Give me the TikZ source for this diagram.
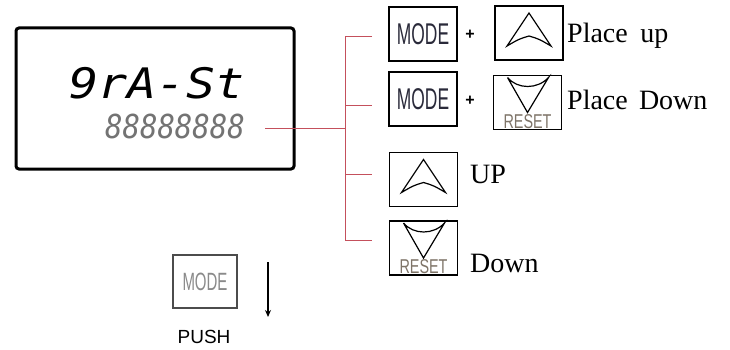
\documentclass[tikz,border=0pt]{standalone}
\usepackage{fontspec}
\usepackage{graphicx}
\usepackage{tikz}
\usetikzlibrary{arrows.meta}
\setmainfont{Liberation Serif}
\newfontfamily\keyfont{Liberation Sans}
\newfontfamily\segfont{DejaVu Sans Mono}
\definecolor{Wire}{HTML}{C4505C}
\definecolor{Ink}{HTML}{2A2A3A}
\definecolor{Faint}{HTML}{8A8A8A}
\definecolor{Rst}{HTML}{7E7468}

\tikzset{
  uparr/.pic={
    \draw[line width=1.2pt] (0,-20) -- (22,13) .. controls (10,6) .. (0,3)
      .. controls (-10,6) .. (-22,13) -- cycle;
  },
  dnarr/.pic={
    \draw[line width=1.2pt] (-20,-25) -- (0,10) -- (21,-25)
      .. controls (10,-13) and (-10,-13) .. (-20,-25);
    \node[font=\keyfont\fontsize{20}{20}\selectfont,text=Rst,inner sep=0pt]
      (-rst) at (0,19) {\scalebox{0.72}[1]{RESET}};
  }
}

\begin{document}
\begin{tikzpicture}[x=1pt,y=-1pt,
  lcd/.style={draw,line width=3pt,rounded corners=3pt,minimum width=278pt,
    minimum height=141pt},
  keybox/.style={draw,line width=1.3pt,minimum width=68pt,minimum height=54pt,
    inner sep=0pt,font=\keyfont\fontsize{30}{30}\selectfont,text=Ink},
  pushbox/.style={keybox,draw=black!70,minimum width=64pt,minimum height=53pt,
    font=\keyfont\fontsize{25}{25}\selectfont,text=Faint},
  plus/.style={font=\keyfont\bfseries\fontsize{16}{16}\selectfont,inner sep=0pt},
  lbl/.style={font=\fontsize{28}{30}\selectfont,inner sep=0pt,anchor=base west},
  wire/.style={draw=Wire,line width=1pt}
]
  \useasboundingbox (0,0) rectangle (730,350);

  % display
  \node[lcd] (lcd) at (155,98.5) {};
  \node[font=\segfont\itshape\fontsize{42}{42}\selectfont,inner sep=0pt,
    anchor=base] (title) at (157,99) {\scalebox{1.15}[1]{9rA-St}};
  \node[font=\segfont\itshape\fontsize{33}{33}\selectfont,text=black!55,inner sep=0pt,
    anchor=base] (digits) at (175,139) {\scalebox{0.88}[1]{88888888}};

  % wiring to the key combinations
  \coordinate (tap) at (265,128);
  \coordinate (hub) at (345,128);
  \coordinate (b1) at (345,37);  \coordinate (s1) at (372,37);
  \coordinate (b2) at (345,106); \coordinate (s2) at (372,106);
  \coordinate (b3) at (345,174); \coordinate (s3) at (372,174);
  \coordinate (b4) at (345,240); \coordinate (s4) at (372,240);
  \draw[wire] (tap) -- (hub);
  \draw[wire] (s1) -- (b1) -- (b4) -- (s4);
  \draw[wire] (b2) -- (s2);
  \draw[wire] (b3) -- (s3);

  % row 1: place up
  \node[keybox] (modeA) at (423,34) {\scalebox{0.58}[1]{MODE}};
  \node[plus] (plusA) at (470,35) {+};
  \node[keybox] (upA) at (529,33) {};
  \pic at (upA.center) {uparr};
  \node[lbl] (labA) at (567,43) {Place\hspace{0.45em}up};

  % row 2: place down
  \node[keybox] (modeB) at (423,99) {\scalebox{0.58}[1]{MODE}};
  \node[plus] (plusB) at (470,101) {+};
  \node[keybox] (dnA) at (527.5,102.5) {};
  \pic (dA) at (dnA.center) {dnarr};
  \node[lbl] (labB) at (567,110) {Place\hspace{0.4em}Down};

  % row 3 and 4: single keys
  \node[keybox] (upB) at (423.5,179.5) {};
  \pic at (upB.center) {uparr};
  \node[lbl] (labC) at (470,183) {UP};
  \node[keybox] (dnB) at (423.5,248) {};
  \pic (dB) at (dnB.center) {dnarr};
  \node[lbl] (labD) at (470,272) {Down};

  % push mode key
  \node[pushbox] (push) at (205,281.5) {\scalebox{0.6}[1]{MODE}};
  \coordinate (pa) at (268,262);
  \coordinate (pb) at (268,317);
  \draw[-{Stealth[length=7pt,width=6pt]},line width=1.2pt] (pa) -- (pb);
  \node[font=\keyfont\fontsize{19}{19}\selectfont,inner sep=0pt,anchor=base]
    (pushtxt) at (204,343) {PUSH};
\end{tikzpicture}
\end{document}
